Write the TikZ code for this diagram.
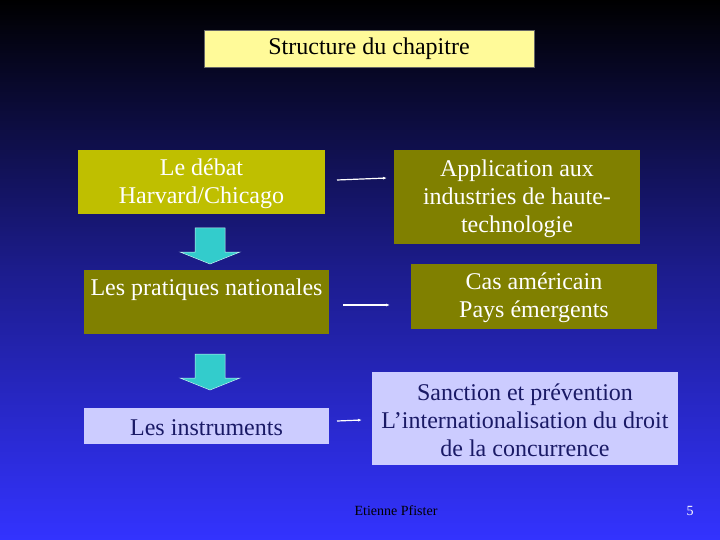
\documentclass[tikz,border=0pt]{standalone}
\usepackage{fontspec}
\setmainfont{Liberation Serif}
\usetikzlibrary{arrows.meta}
\definecolor{olv}{HTML}{808000}
\definecolor{ylw}{HTML}{BFBF00}
\definecolor{lav}{HTML}{CCCCFF}
\definecolor{navy}{HTML}{1A1A66}
\definecolor{bgtop}{HTML}{000000}
\definecolor{bgbot}{HTML}{3333FF}
\definecolor{cy}{HTML}{33CCCC}
\begin{document}
\begin{tikzpicture}[x=1pt,y=-1pt,
 box/.style={draw=none,inner sep=0pt,align=center,font=\fontsize{24}{28}\selectfont},
 lnk/.style={white,line width=1.2pt,-{Latex[length=4pt,width=3pt]}},
 barrow/.style={fill=cy,draw=white!70!cy,line width=0.5pt}]
\useasboundingbox (0,0) rectangle (720,540);
\shade[top color=bgtop,bottom color=bgbot,middle color=bgtop!45!bgbot] (0,0) rectangle (720,540);
\fill[fill=yellow!40!white,draw=black!60] (204,30) rectangle (534,67);
\node[box,text=black] (title) at (369,48.5) {Structure du chapitre};
\fill[ylw] (78,150) rectangle (325,214);
\node[box,text=white] (debat) at (201.5,184) {Le débat\\Harvard/Chicago};
\fill[olv] (394,150) rectangle (640,244);
\node[box,text=white] (appl) at (517,199) {Application aux\\industries de haute-\\technologie};
\fill[olv] (84,270) rectangle (329,334);
\node[box,text=white] (prat) at (206.5,290) {Les pratiques nationales};
\fill[olv] (411,264) rectangle (657,329);
\node[box,text=white] (cas) at (534,298) {Cas américain\\Pays émergents};
\fill[lav] (84,408) rectangle (329,444);
\node[box,text=navy] (instr) at (206.5,428) {Les instruments};
\fill[lav] (372,372) rectangle (678,465);
\node[box,text=navy] (sanc) at (525,420) {Sanction et prévention\\L’internationalisation du droit\\de la concurrence};
\coordinate (a1) at (337,180); \coordinate (b1) at (387,178);
\coordinate (a2) at (343,305); \coordinate (b2) at (390,305);
\coordinate (a3) at (337,421); \coordinate (b3) at (362,420);
\draw[lnk] (a1) -- (b1);
\draw[lnk] (a2) -- (b2);
\draw[lnk] (a3) -- (b3);
\draw[barrow] (195,228) -- (225,228) -- (225,252) -- (240,252) -- (210,264) -- (180,252) -- (195,252) -- cycle;
\draw[barrow] (195,354) -- (225,354) -- (225,378) -- (240,378) -- (210,390) -- (180,378) -- (195,378) -- cycle;
\node[text=black,font=\fontsize{14}{16}\selectfont] (auth) at (396,511) {Etienne Pfister};
\node[text=white,font=\fontsize{14}{16}\selectfont] (num) at (690,511) {5};
\end{tikzpicture}
\end{document}
